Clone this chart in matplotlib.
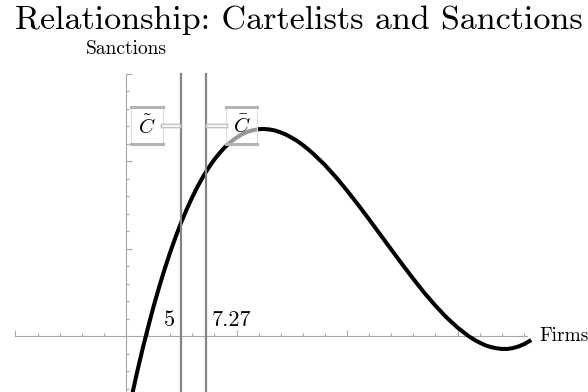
#!/usr/bin/env python3
"""
Relationship: Cartelists and Sanctions - Mathematica style curve plot
"""
import matplotlib
matplotlib.use("Agg")
import matplotlib.pyplot as plt
import matplotlib.patheffects as pe
from matplotlib.patches import Rectangle
from matplotlib.ticker import NullFormatter

plt.rcParams['mathtext.fontset'] = 'cm'
plt.rcParams['axes.unicode_minus'] = False

# curve (firms -> sanctions)
firms = [0.5, 1, 1.5, 2, 2.5, 3, 3.5, 4, 4.5, 5, 5.5, 6, 6.5, 7, 7.5, 8, 8.5,
         9, 9.5, 10, 10.5, 11, 11.5, 12, 12.5, 13, 13.5, 14, 14.5, 15, 15.5,
         16, 16.5, 17, 18, 19, 20, 21, 22, 23, 24, 25, 26, 27, 28, 29, 30,
         31, 31.5, 32, 32.5, 33, 33.5, 34, 34.5, 35, 35.5, 36, 36.5]
sanctions = [-3.50, -2.08, -0.74, 0.51, 1.70, 2.80, 3.83, 4.79, 5.68, 6.50,
             7.25, 7.94, 8.57, 9.13, 9.64, 10.09, 10.48, 10.82, 11.10, 11.34,
             11.53, 11.67, 11.76, 11.82, 11.83, 11.80, 11.74, 11.63, 11.50,
             11.33, 11.14, 10.91, 10.66, 10.38, 9.77, 9.07, 8.31, 7.50, 6.66,
             5.80, 4.94, 4.09, 3.26, 2.46, 1.73, 1.06, 0.48, -0.01, -0.21,
             -0.38, -0.53, -0.63, -0.70, -0.74, -0.74, -0.69, -0.60, -0.47,
             -0.29]

# the two marked firm counts
marks = [5, 7.27]
mark_labels = ["5", "7.27"]
callouts = [r"$\tilde{C}$", r"$\bar{C}$"]

title = "Relationship: Cartelists and Sanctions"

fig = plt.figure(figsize=(5.88, 3.92), dpi=100)
ax = fig.add_axes([0, 0, 1, 1])
ax.set_xlim(-11.4, 41.8)
ax.set_ylim(-3.2, 19.2)

axis_col = '#a8a8a8'
for side in ['top', 'right']:
    ax.spines[side].set_visible(False)
ax.spines['left'].set_position(('data', 0))
ax.spines['bottom'].set_position(('data', 0))
ax.spines['left'].set_bounds(-3.2, 15)
ax.spines['bottom'].set_bounds(-10, 36.3)
for side in ['left', 'bottom']:
    ax.spines[side].set_color(axis_col)
    ax.spines[side].set_linewidth(0.8)

ax.set_xticks(list(range(-10, 37, 10)))
ax.set_xticks(list(range(-10, 37, 2)), minor=True)
ax.set_yticks([5, 10, 15])
ax.set_yticks(list(range(-3, 16)), minor=True)
ax.xaxis.set_major_formatter(NullFormatter())
ax.yaxis.set_major_formatter(NullFormatter())
ax.tick_params(which='major', direction='in', length=4, width=0.8, color=axis_col)
ax.tick_params(which='minor', direction='in', length=2.5, width=0.8, color=axis_col)

# main curve
ax.plot(firms, sanctions, color='black', lw=2.9, solid_joinstyle='round',
        zorder=3)

# vertical marker lines
for xv in marks:
    ax.plot([xv, xv], [-3.2, 15], color='#858585', lw=1.6, zorder=4)
ax.text(marks[0] - 0.55, 0.57, mark_labels[0], ha='right', va='baseline',
        fontfamily='cmr10', fontsize=16)
ax.text(marks[1] + 0.45, 0.57, mark_labels[1], ha='left', va='baseline',
        fontfamily='cmr10', fontsize=16)

# callout boxes
boxes = [(0.45, 3.35), (9.05, 11.85)]
conns = [(3.35, 4.8), (7.45, 9.05)]
y0, y1 = 10.97, 13.09
for (bx0, bx1), (cx0, cx1), lab in zip(boxes, conns, callouts):
    ax.add_patch(Rectangle((bx0, y0), bx1 - bx0, y1 - y0, facecolor='white',
                           alpha=0.6, edgecolor='none', zorder=5))
    ax.plot([bx0, bx0], [y0, y1], color='#dcdcdc', lw=0.8, zorder=6)
    ax.plot([bx1, bx1], [y0, y1], color='#dcdcdc', lw=0.8, zorder=6)
    ax.plot([bx0, bx1], [y0, y0], color='#b4b4b4', lw=2.2, zorder=6)
    ax.plot([bx0, bx1], [y1, y1], color='#b4b4b4', lw=2.2, zorder=6)
    ax.plot([cx0, cx1], [12.0, 12.0], color='#c4c4c4', lw=3.2, zorder=6,
            path_effects=[pe.Stroke(linewidth=3.2, foreground='#c4c4c4'),
                          pe.Normal()])
    ax.plot([cx0, cx1], [12.0, 12.0], color='white', lw=1.2, zorder=7)
    ax.text((bx0 + bx1) / 2, 12.0, lab, ha='center', va='center',
            fontsize=15, zorder=8)

# axis labels and title
ax.text(0, 16.1, "Sanctions", ha='center', va='baseline',
        fontfamily='cmr10', fontsize=14)
ax.text(37.4, -0.27, "Firms", ha='left', va='baseline',
        fontfamily='cmr10', fontsize=14)
fig.text(0.508, 0.927, title, ha='center', va='baseline',
         fontfamily='cmr10', fontsize=24.5)

plt.savefig('out.png', dpi=100)
plt.close()
